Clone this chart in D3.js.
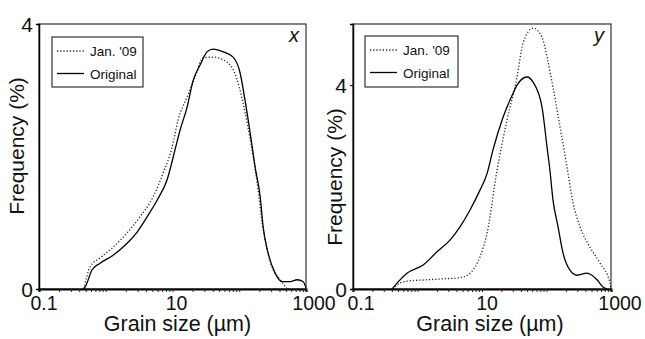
<!DOCTYPE html>
<html>
<head>
<meta charset="utf-8">
<script src="https://cdn.jsdelivr.net/npm/d3@7"></script>
<style>
  body { margin: 0; background: #fff; }
  text { font-family: "Liberation Sans", Arial, sans-serif; fill: #111; }
</style>
</head>
<body>
<div id="container"></div>
<script>
// grain size (µm) and frequency (%)
const xJanSize = [0.47, 0.58, 0.82, 1.29, 2.09, 3.27, 5.12, 7.23, 9.86, 12.1, 16.6, 21.8, 28.8, 40.6, 57.4, 81.1, 103, 131, 162, 192, 220, 262, 322, 410, 522];
const xJanFreq = [0, 0.33, 0.47, 0.63, 0.85, 1.09, 1.39, 1.75, 2.14, 2.55, 2.90, 3.20, 3.49, 3.50, 3.46, 3.31, 3.00, 2.51, 1.99, 1.49, 1.00, 0.59, 0.29, 0.14, 0];
const xOrigSize = [0.457, 0.49, 0.624, 0.822, 1.29, 2.09, 2.95, 4.16, 5.88, 8.30, 10.9, 13.0, 16.6, 20.4, 25.9, 33.0, 40.6, 57.4, 81.1, 103, 122, 146, 173, 206, 228, 271, 345, 440, 580, 738, 908, 1000];
const xOrigFreq = [0, 0.03, 0.29, 0.39, 0.51, 0.69, 0.86, 1.09, 1.34, 1.65, 2.10, 2.40, 2.75, 3.15, 3.38, 3.58, 3.62, 3.58, 3.50, 3.26, 2.85, 2.35, 1.84, 1.39, 0.94, 0.54, 0.24, 0.11, 0.11, 0.14, 0.11, 0.02];

const yJanSize = [0.417, 0.536, 0.766, 1.40, 2.48, 4.56, 6.52, 9.31, 12.0, 17.1, 24.4, 34.9, 43.2, 61.8, 85.2, 102, 126, 162, 208, 258, 331, 472, 675, 964, 1000];
const yJanFreq = [0, 0.12, 0.16, 0.18, 0.20, 0.22, 0.31, 0.63, 1.10, 2.33, 3.31, 4.16, 4.82, 5.12, 4.94, 4.55, 3.96, 3.18, 2.39, 1.69, 1.22, 0.82, 0.51, 0.12, 0.02];
const yOrigSize = [0.403, 0.536, 0.687, 1.22, 2.01, 3.19, 4.56, 6.52, 9.31, 12.0, 14.8, 21.2, 30.3, 34.9, 49.9, 61.8, 85.2, 102, 113, 126, 151, 180, 231, 297, 425, 607, 752, 867];
const yOrigFreq = [0, 0.18, 0.31, 0.47, 0.73, 0.96, 1.22, 1.55, 1.94, 2.27, 2.73, 3.37, 3.84, 4.00, 4.16, 4.06, 3.57, 2.78, 2.33, 1.75, 1.22, 0.71, 0.37, 0.27, 0.31, 0.18, 0.04, 0];

const xTicks = [0.1, 10, 1000];
const seriesNames = ["Jan. '09", "Original"];

const width = 645, height = 339;

const svg = d3.select('#container')
  .append('svg')
  .attr('width', width)
  .attr('height', height);

const panels = [
  { letter: 'x', left: 39, right: 306, yMax: 4, yTicks: [0, 4], jan: [xJanSize, xJanFreq], orig: [xOrigSize, xOrigFreq],
    legend: [52, 37, 91, 50], ytitle: [24, 146], xshift: [5, 4, 8], tshift: 5 },
  { letter: 'y', left: 353, right: 611, yMax: 5.2, yTicks: [0, 4], jan: [yJanSize, yJanFreq], orig: [yOrigSize, yOrigFreq],
    legend: [365, 36, 93, 51], ytitle: [342, 177], xshift: [8, 5, 9], tshift: 8 }
];
const plotTop = 24, plotBottom = 289;

panels.forEach(p => {
  const g = svg.append('g');

  const x = d3.scaleLog().domain([0.1, 1000]).range([p.left, p.right]);
  const y = d3.scaleLinear().domain([0, p.yMax]).range([plotBottom, plotTop]);

  // frame
  g.append('rect')
    .attr('x', p.left).attr('y', plotTop)
    .attr('width', p.right - p.left).attr('height', plotBottom - plotTop)
    .attr('fill', 'none').attr('stroke', '#333').attr('stroke-width', 1.2);

  // x axis with minor ticks
  const xAxis = d3.axisBottom(x)
    .tickValues(d3.range(-1, 3).flatMap(e => d3.range(1, 10).map(k => k * Math.pow(10, e))).concat([1000]))
    .tickSize(3)
    .tickFormat('');
  g.append('g')
    .attr('transform', `translate(0,${plotBottom})`)
    .call(xAxis)
    .call(a => a.select('.domain').attr('stroke', '#000').attr('stroke-width', 2.2))
    .call(a => a.selectAll('.tick line').attr('stroke', '#222'));

  g.selectAll('.xlab')
    .data(xTicks)
    .join('text')
    .attr('x', (d, i) => x(d) + p.xshift[i])
    .attr('y', 310)
    .attr('text-anchor', 'middle')
    .attr('font-size', 19.5)
    .text(d => d);

  // y axis
  const yAxis = d3.axisLeft(y).tickValues(p.yTicks).tickSize(3).tickFormat('');
  g.append('g')
    .attr('transform', `translate(${p.left},0)`)
    .call(yAxis)
    .call(a => a.select('.domain').attr('stroke', '#000').attr('stroke-width', 1.5));

  g.selectAll('.ylab')
    .data(p.yTicks)
    .join('text')
    .attr('x', p.left - 6)
    .attr('y', d => y(d) + 7.5)
    .attr('text-anchor', 'end')
    .attr('font-size', 21)
    .text(d => d);

  g.append('text')
    .attr('transform', `translate(${p.ytitle[0]},${p.ytitle[1]}) rotate(-90)`)
    .attr('text-anchor', 'middle')
    .attr('font-size', 21)
    .text('Frequency (%)');

  g.append('text')
    .attr('x', (p.left + p.right) / 2 + p.tshift)
    .attr('y', 331)
    .attr('text-anchor', 'middle')
    .attr('font-size', 21.5)
    .text('Grain size (µm)');

  // curves
  const line = d3.line()
    .x(d => x(d[0]))
    .y(d => y(d[1]))
    .curve(d3.curveMonotoneX);

  g.append('path')
    .datum(d3.zip(p.jan[0], p.jan[1]))
    .attr('d', line)
    .attr('fill', 'none')
    .attr('stroke', '#222')
    .attr('stroke-width', 1.3)
    .attr('stroke-dasharray', '1.2,2');

  g.append('path')
    .datum(d3.zip(p.orig[0], p.orig[1]))
    .attr('d', line)
    .attr('fill', 'none')
    .attr('stroke', '#000')
    .attr('stroke-width', 1.3);

  // panel letter
  g.append('text')
    .attr('x', p.right - 12)
    .attr('y', 42)
    .attr('text-anchor', 'middle')
    .attr('font-family', '"Liberation Serif", serif')
    .attr('font-style', 'italic')
    .attr('font-size', 20)
    .text(p.letter);

  // legend
  const [lx, ly, lw, lh] = p.legend;
  g.append('rect')
    .attr('x', lx).attr('y', ly).attr('width', lw).attr('height', lh)
    .attr('fill', '#fff').attr('stroke', '#333').attr('stroke-width', 1.2);

  seriesNames.forEach((name, i) => {
    const yy = ly + 14 + i * 22.5;
    g.append('line')
      .attr('x1', lx + 5).attr('x2', lx + 32)
      .attr('y1', yy).attr('y2', yy)
      .attr('stroke', i === 0 ? '#222' : '#000')
      .attr('stroke-width', 1.3)
      .attr('stroke-dasharray', i === 0 ? '1.2,2' : null);
    g.append('text')
      .attr('x', lx + 38)
      .attr('y', yy + 5)
      .attr('font-size', 13.5)
      .text(name);
  });
});
</script>
</body>
</html>
